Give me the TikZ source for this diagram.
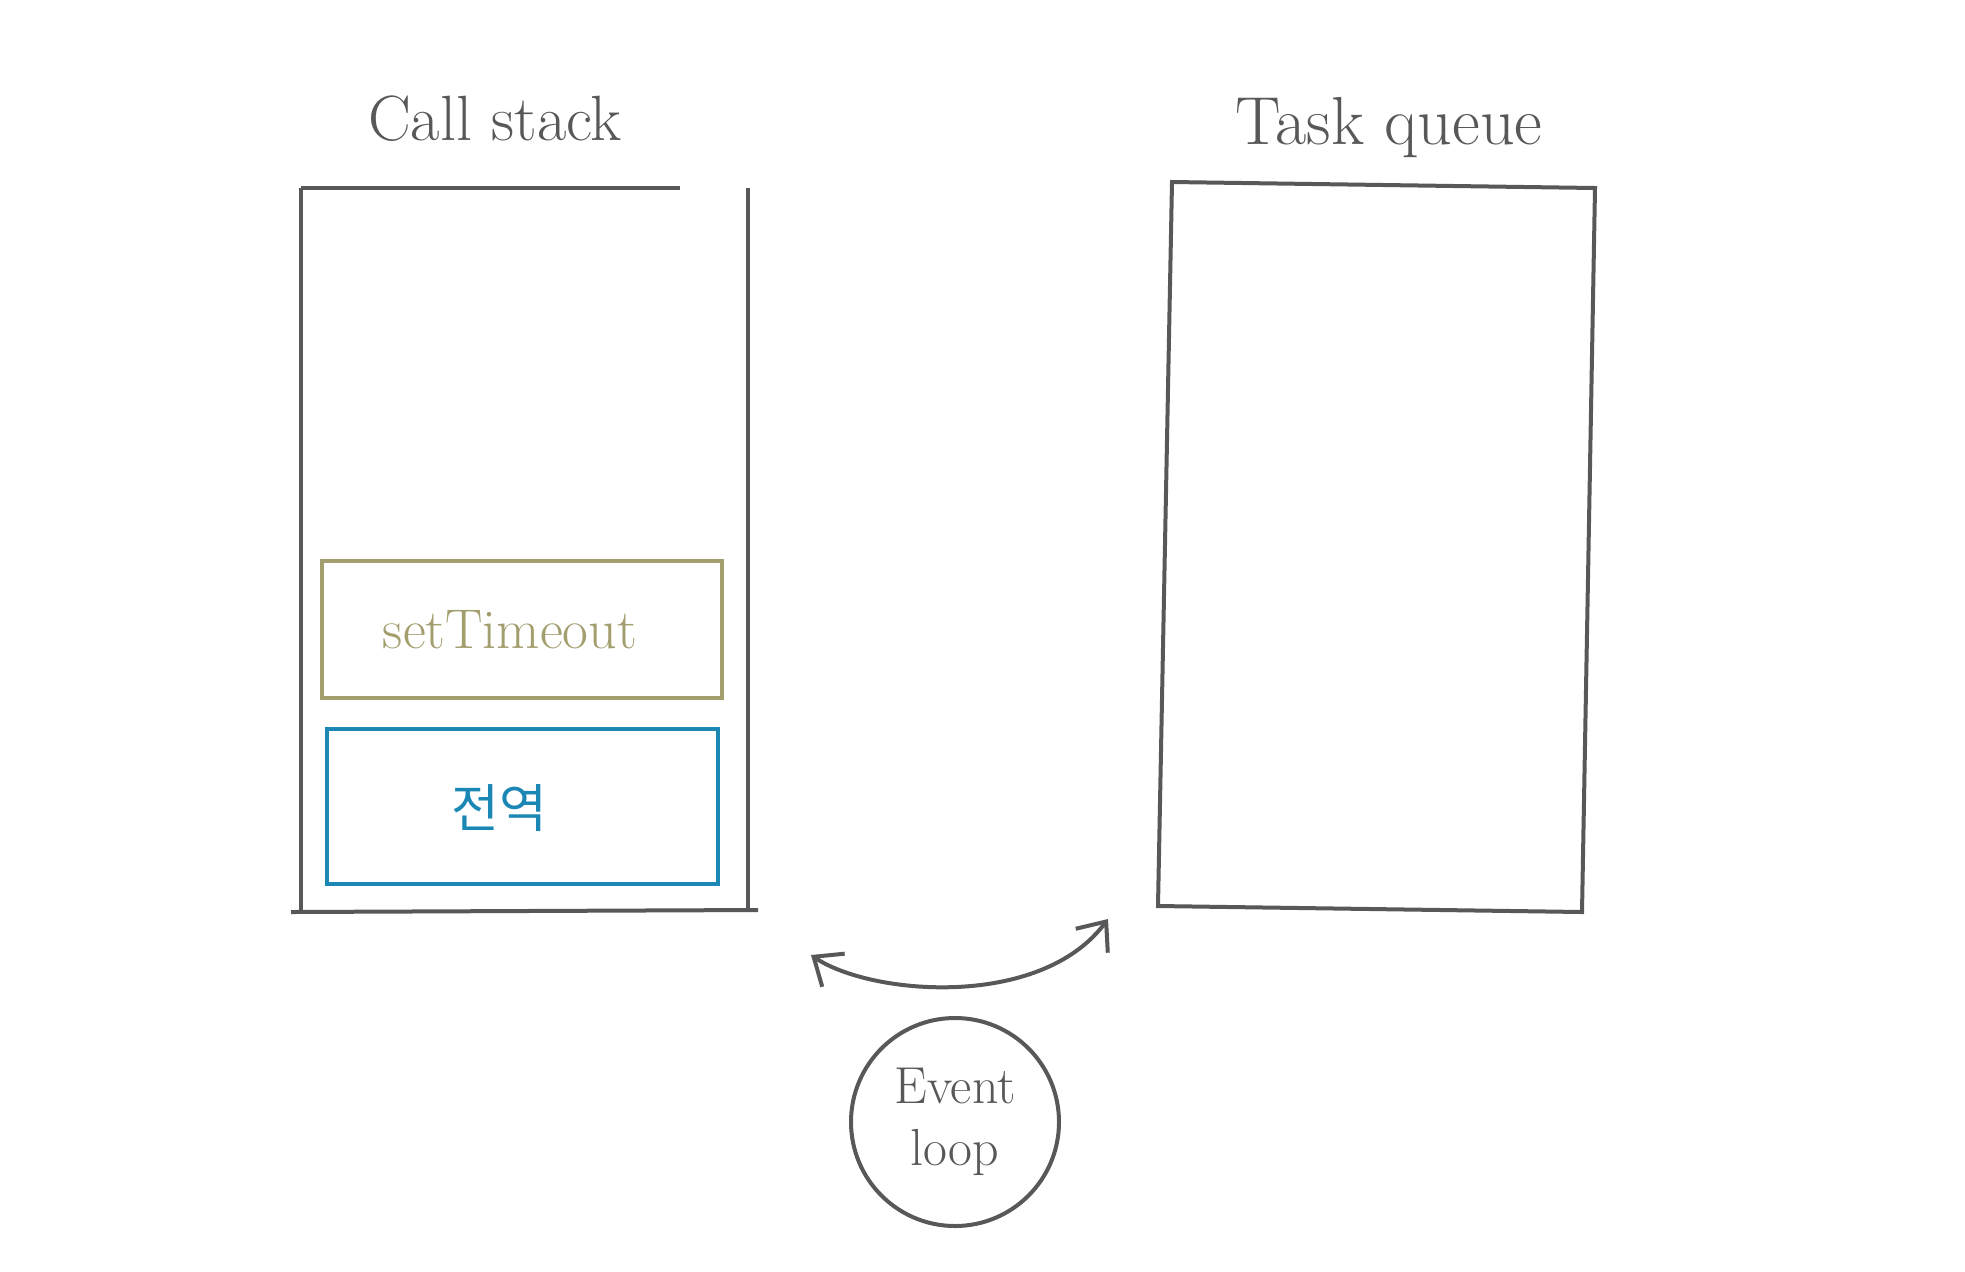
\documentclass[tikz,border=0pt]{standalone}
\usepackage{fontspec}
\newfontfamily\cjk{Noto Sans CJK KR}
\usetikzlibrary{arrows.meta}

\definecolor{pencil}{HTML}{58585A}
\definecolor{olive}{HTML}{A39E6E}
\definecolor{sky}{HTML}{1A87B5}

\begin{document}
\begin{tikzpicture}[x=0.5pt, y=-0.5pt, line width=2pt, pencil]
  % pixel grid 1965 x 1271, y grows downwards
  \useasboundingbox (0,0) rectangle (1965,1271);
  % call stack: open top on the right, long bottom line
  \coordinate (SA) at (301,188);
  \coordinate (SB) at (680,188);
  \coordinate (SC) at (748,188);
  \coordinate (SD) at (748,910);
  \coordinate (SE) at (301,910);
  \draw (SA)--(SB);
  \draw (SA)--(SE);
  \draw (SC)--(SD);
  \draw (291,912)--(758,910);
  % frames inside the stack
  \draw[olive] (322,561) rectangle (722,698);
  \draw[sky] (327,729) rectangle (718,884);
  % task queue
  \draw (1172,182) -- (1595,188) -- (1582,912) -- (1158,906) -- cycle;
  % labels
  \node (lstack) at (495,119) {\fontsize{32}{38}\selectfont Call stack};
  \node (lqueue) at (1389,128) {\fontsize{34}{40}\selectfont Task queue};
  \node[olive] (ltimer) at (510,630) {\fontsize{28}{34}\selectfont setTimeout};
  \node[sky] (lglobal) at (499,808) {\fontsize{26}{30}\selectfont\cjk 전역};
  % event loop
  \node[draw, circle, minimum size=104pt, align=center, font=\fontsize{26}{31}\selectfont]
    (evloop) at (955,1122) {Event\\loop};
  \coordinate (AL) at (811,955);
  \coordinate (AR) at (1108,919);
  \draw[{Straight Barb[length=12pt,width=20pt]}-{Straight Barb[length=12pt,width=20pt]}]
    (AL) .. controls (870,995) and (1040,1010) .. (AR);
\end{tikzpicture}
\end{document}
